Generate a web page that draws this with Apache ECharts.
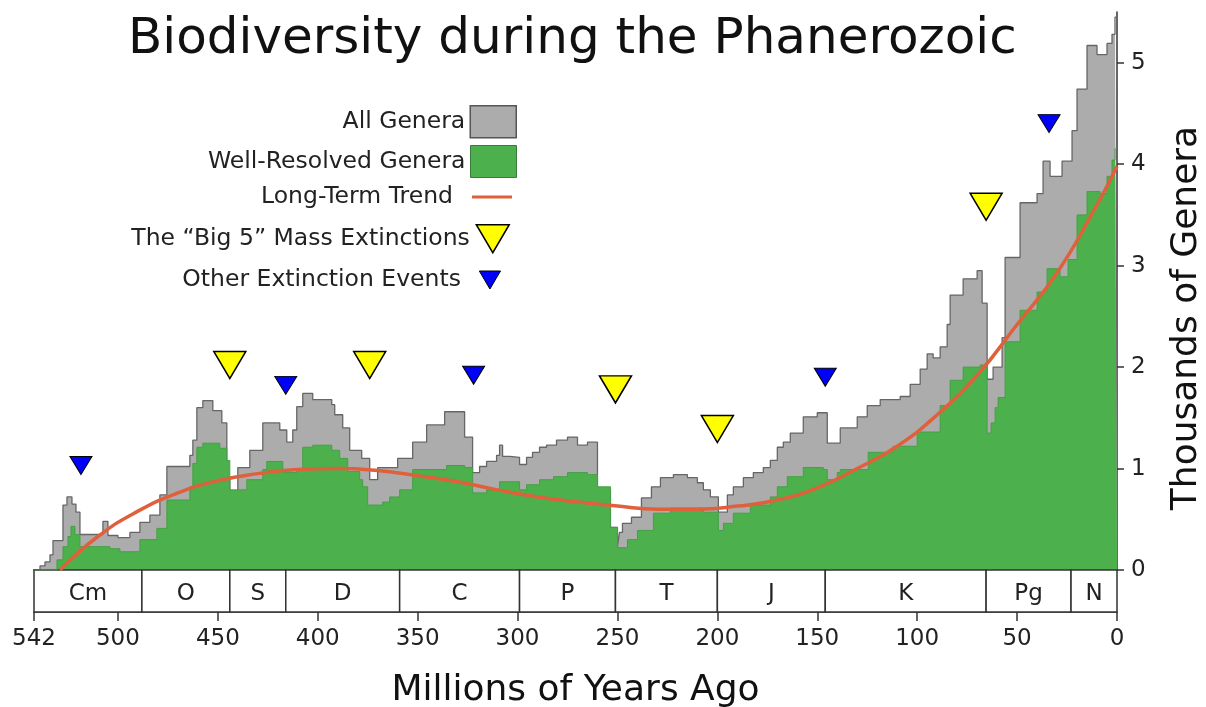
<!DOCTYPE html>
<html>
<head>
<meta charset="utf-8">
<title>Biodiversity during the Phanerozoic</title>
<script src="https://cdn.jsdelivr.net/npm/echarts@6/dist/echarts.min.js"></script>
<style>
  html, body { margin: 0; padding: 0; background: #fff; }
  #chart { width: 1206px; height: 707px; }
</style>
</head>
<body>
<div id="chart"></div>
<script>
// ages in millions of years ago (older edge of each step), genera in thousands
const allAges = [542, 539, 536.5, 534, 532.5, 527.5, 525.5, 523, 521, 519,
  507.5, 505, 500, 494, 489, 484, 479, 475.5, 464, 462.5,
  460.5, 457.5, 452.5, 448, 445.5, 444, 440, 434, 427.5, 419,
  415.5, 412.5, 410.5, 407.5, 402.5, 393, 391.5, 387.5, 384, 378,
  374, 370, 360, 352.5, 345.5, 336.5, 326.5, 322.5, 319, 315.5,
  310.5, 309, 307.5, 304, 299, 295.5, 292.5, 289, 285.5, 280.5,
  275, 270, 265, 260, 253.5, 250, 249, 247.5, 243, 238,
  233, 228.5, 222, 215, 210, 207, 203.5, 199.5, 195, 192,
  187, 182, 177, 173.5, 170, 167, 163.5, 157, 150, 145,
  138.5, 130, 125, 118.5, 108.5, 103.5, 98.5, 95, 92, 88.5,
  85, 83.5, 77, 70, 67.5, 65, 62, 57.5, 56, 48.5, 40,
  37, 33.5, 27.5, 22.5, 20, 15, 10, 5, 2.5, 1, 0];
const allGenera = [0.00, 0.04, 0.08, 0.15, 0.29, 0.64, 0.72, 0.65, 0.57, 0.35,
  0.48, 0.34, 0.32, 0.37, 0.47, 0.54, 0.74, 1.02, 1.13, 1.28,
  1.60, 1.67, 1.57, 1.45, 0.89, 0.72, 1.01, 1.18, 1.45, 1.38,
  1.26, 1.38, 1.61, 1.74, 1.68, 1.63, 1.53, 1.40, 1.18, 1.10,
  0.89, 1.01, 1.10, 1.26, 1.43, 1.56, 1.31, 0.96, 1.02, 1.07,
  1.13, 1.23, 1.12, 1.11, 1.04, 1.11, 1.16, 1.21, 1.23, 1.28,
  1.31, 1.23, 1.26, 0.79, 0.42, 0.23, 0.37, 0.46, 0.52, 0.71,
  0.82, 0.91, 0.94, 0.91, 0.86, 0.79, 0.72, 0.57, 0.74, 0.82,
  0.91, 0.96, 1.01, 1.08, 1.21, 1.26, 1.35, 1.51, 1.55, 1.25,
  1.40, 1.51, 1.62, 1.68, 1.71, 1.83, 1.98, 2.13, 2.09, 2.20,
  2.42, 2.71, 2.87, 2.95, 2.63, 1.88, 2.00, 2.29, 3.08, 3.62, 3.71,
  4.03, 3.88, 4.03, 4.33, 4.74, 5.17, 5.08, 5.19, 5.28, 5.45, 5.45];

const wellAges = [542, 537.5, 530.5, 527.5, 525, 523.5, 521.5, 519, 504, 499,
  489, 480.5, 475.5, 464, 462.5, 460.5, 457.5, 449, 445.5, 444,
  435.5, 427.5, 425.5, 417.5, 410.5, 407.5, 402.5, 393, 389, 385,
  379, 377.5, 375, 367.5, 364, 359, 352.5, 335.5, 326.5, 322.5,
  315.5, 309, 299, 295.5, 289, 282, 275, 265, 260, 253.5,
  250, 245, 240, 232, 223.5, 207, 199.5, 197, 192, 183.5,
  173.5, 170, 165, 157, 147, 145, 140, 138.5, 124.5, 112,
  100, 88.5, 83.5, 77, 68.5, 65, 63, 61, 59.5, 56, 48.5, 40, 35,
  28.5, 24.5, 20, 15, 8.5, 5, 2.5, 1, 0];
const wellGenera = [0, 0, 0.10, 0.23, 0.33, 0.43, 0.35, 0.23, 0.21, 0.18,
  0.30, 0.41, 0.69, 0.82, 1.05, 1.21, 1.25, 1.20, 1.08, 0.79,
  0.89, 0.99, 1.07, 0.96, 0.99, 1.21, 1.23, 1.18, 1.10, 0.97,
  0.89, 0.82, 0.64, 0.67, 0.72, 0.79, 0.99, 1.03, 1.01, 0.76,
  0.79, 0.87, 0.79, 0.84, 0.89, 0.92, 0.96, 0.94, 0.82, 0.42,
  0.22, 0.30, 0.39, 0.56, 0.61, 0.57, 0.39, 0.46, 0.56, 0.64,
  0.72, 0.82, 0.92, 1.01, 0.99, 0.89, 0.96, 0.99, 1.16, 1.22,
  1.36, 1.62, 1.87, 2.00, 2.02, 1.35, 1.45, 1.60, 1.70, 2.25, 2.56, 2.74, 2.97,
  2.89, 3.06, 3.50, 3.73, 3.71, 3.88, 4.04, 4.15, 4.15];

const trendAges = [529, 510, 490, 470, 450, 430, 410, 390, 370, 350, 330, 310, 290, 270,
  250, 230, 210, 190, 170, 150, 130, 110, 90, 70, 50, 30, 10, 0];
const trendGenera = [0, 0.33, 0.58, 0.76, 0.88, 0.95, 0.99, 1.00, 0.98, 0.93, 0.87, 0.79, 0.72, 0.67,
  0.63, 0.60, 0.60, 0.63, 0.69, 0.81, 1.00, 1.22, 1.53, 1.92, 2.42, 2.93, 3.60, 3.98];

const big5Ages = [444, 374, 251, 200, 65.5];
const big5Marks = [2.02, 2.02, 1.78, 1.39, 3.58];
const otherAges = [518.5, 416, 322, 146, 34];
const otherMarks = [1.03, 1.82, 1.92, 1.90, 4.40];

const periodNames = ['Cm', 'O', 'S', 'D', 'C', 'P', 'T', 'J', 'K', 'Pg', 'N'];
const periodStarts = [542, 488, 444, 416, 359, 299, 251, 200, 146, 65.5, 23];
const periodEnds = [488, 444, 416, 359, 299, 251, 200, 146, 65.5, 23, 0];

const xTicks = [542, 500, 450, 400, 350, 300, 250, 200, 150, 100, 50, 0];
const yTicks = [0, 1, 2, 3, 4, 5];

const font = 'DejaVu Sans';
const triangle = 'path://M0,0L20,0L10,17Z';
const pairs = (xs, ys) => xs.map((x, i) => [x, ys[i]]);

function legendItem(name, right, top, w, h, icon, itemStyle, padRight) {
  return {
    data: [name], right: right, top: top, orient: 'vertical', align: 'right',
    padding: 0, itemWidth: w, itemHeight: h, icon: icon, itemStyle: itemStyle,
    selectedMode: false,
    textStyle: { fontSize: 23.5, color: '#222', fontFamily: font, padding: [0, padRight || 0, 0, 0] }
  };
}

const chart = echarts.init(document.getElementById('chart'));
const option = {
  animation: false,
  backgroundColor: '#fff',
  textStyle: { fontFamily: font, color: '#222' },
  title: {
    text: 'Biodiversity during the Phanerozoic',
    left: 128, top: 15, padding: 0,
    textStyle: { fontSize: 50, fontWeight: 'normal', color: '#111', fontFamily: font }
  },
  legend: [
    legendItem('All Genera', 689, 105, 46, 32, 'rect', { color: '#acacac', borderColor: '#555', borderWidth: 1.5 }),
    legendItem('Well-Resolved Genera', 689, 145, 46, 32, 'rect', { color: '#4cb04c', borderColor: '#3a7a3a', borderWidth: 1 }),
    legendItem('Long-Term Trend', 694, 185, 40, 3, 'rect', { color: '#e0603c', borderWidth: 0 }, 14),
    legendItem('The “Big 5” Mass Extinctions', 696, 224, 36, 28, triangle, { color: '#ffff00', borderColor: '#000', borderWidth: 1.5 }),
    legendItem('Other Extinction Events', 705, 268, 22, 18, triangle, { color: '#0000ff', borderColor: '#000', borderWidth: 1 }, 13)
  ],
  grid: [
    { left: 34, right: 89, top: 12, bottom: 137, outerBoundsMode: 'none' },
    { left: 34, right: 89, top: 570, height: 42, outerBoundsMode: 'none' }
  ],
  xAxis: [
    {
      type: 'value', gridIndex: 0, min: 0, max: 542, inverse: true,
      axisLine: { show: true, onZero: false, lineStyle: { color: '#333', width: 1.5 } },
      axisTick: { show: false }, axisLabel: { show: false }, splitLine: { show: false }
    },
    {
      type: 'value', gridIndex: 1, min: 0, max: 542, inverse: true, interval: 50, position: 'bottom',
      name: 'Millions of Years Ago', nameLocation: 'middle', nameGap: 61,
      nameTextStyle: { fontSize: 36, color: '#111' },
      axisLine: { show: true, onZero: false, lineStyle: { color: '#333', width: 1.5 } },
      axisTick: { show: true, length: 9, lineStyle: { color: '#333', width: 1.5 }, customValues: xTicks },
      axisLabel: { fontSize: 23, color: '#222', margin: 16, customValues: xTicks },
      splitLine: { show: false }
    }
  ],
  yAxis: [
    {
      type: 'value', gridIndex: 0, position: 'right', min: 0, max: 5.5, interval: 1,
      name: 'Thousands of Genera', nameLocation: 'middle', nameGap: 52, nameRotate: 90,
      nameTextStyle: { fontSize: 36, color: '#111', padding: [0, 54, 0, 0] },
      axisLine: { show: true, lineStyle: { color: '#333', width: 1.5 } },
      axisTick: { show: true, length: 7, lineStyle: { color: '#333', width: 1.5 }, customValues: yTicks },
      axisLabel: {
        fontSize: 23, color: '#222', margin: 14, customValues: yTicks,
        formatter: v => (v % 1 === 0 ? String(v) : '')
      },
      splitLine: { show: false }
    },
    { type: 'value', gridIndex: 1, min: 0, max: 1, show: false }
  ],
  series: [
    {
      name: 'All Genera', type: 'line', xAxisIndex: 0, yAxisIndex: 0,
      step: 'end', symbol: 'none', z: 1,
      data: pairs(allAges, allGenera),
      lineStyle: { color: '#666', width: 1.3 },
      itemStyle: { color: '#acacac' },
      areaStyle: { color: '#acacac', opacity: 1 }
    },
    {
      name: 'Well-Resolved Genera', type: 'line', xAxisIndex: 0, yAxisIndex: 0,
      step: 'end', symbol: 'none', z: 2,
      data: pairs(wellAges, wellGenera),
      lineStyle: { color: '#45a045', width: 1 },
      itemStyle: { color: '#4cb04c' },
      areaStyle: { color: '#4cb04c', opacity: 1 }
    },
    {
      name: 'Long-Term Trend', type: 'line', xAxisIndex: 0, yAxisIndex: 0,
      smooth: 0.5, symbol: 'none', z: 3,
      data: pairs(trendAges, trendGenera),
      lineStyle: { color: '#e0603c', width: 3.5 },
      itemStyle: { color: '#e0603c' }
    },
    {
      name: 'The “Big 5” Mass Extinctions', type: 'scatter', xAxisIndex: 0, yAxisIndex: 0,
      symbol: triangle, symbolSize: [32, 27], z: 5,
      data: pairs(big5Ages, big5Marks),
      itemStyle: { color: '#ffff00', borderColor: '#000', borderWidth: 1.5, opacity: 1 }
    },
    {
      name: 'Other Extinction Events', type: 'scatter', xAxisIndex: 0, yAxisIndex: 0,
      symbol: triangle, symbolSize: [22, 18], z: 5,
      data: pairs(otherAges, otherMarks),
      itemStyle: { color: '#0000ff', borderColor: '#000', borderWidth: 1, opacity: 1 }
    },
    {
      name: 'Periods', type: 'custom', xAxisIndex: 1, yAxisIndex: 1,
      silent: true, clip: false,
      data: periodStarts.map((s, i) => [s, periodEnds[i], i]),
      encode: { x: [0, 1] },
      renderItem: function (params, api) {
        const a = api.coord([api.value(0), 1]);
        const b = api.coord([api.value(1), 0]);
        return {
          type: 'rect',
          shape: { x: Math.min(a[0], b[0]), y: a[1], width: Math.abs(b[0] - a[0]), height: b[1] - a[1] },
          style: { fill: '#fff', stroke: '#333', lineWidth: 1.5 },
          textContent: { style: { text: periodNames[api.value(2)], fontSize: 23, fontFamily: font, fill: '#222' } },
          textConfig: { position: 'inside', offset: [0, 3] }
        };
      }
    }
  ]
};
chart.setOption(option);
</script>
</body>
</html>
